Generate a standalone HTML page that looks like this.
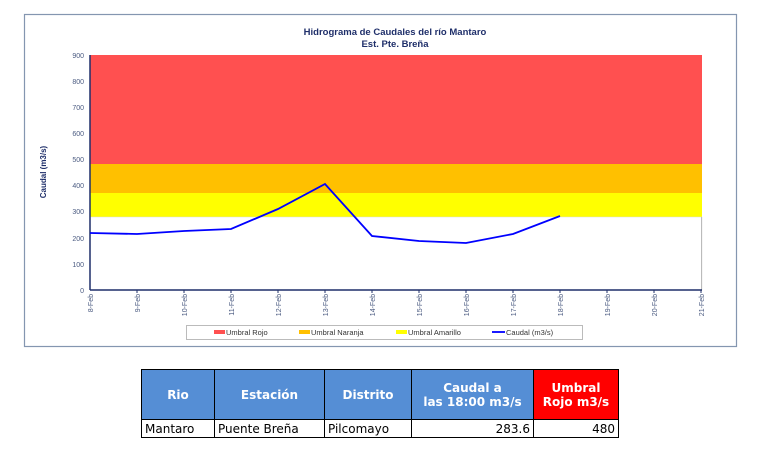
<!DOCTYPE html>
<html><head><meta charset="utf-8"><style>
body{margin:0;background:#fff;width:774px;height:465px;overflow:hidden;font-family:"Liberation Sans",sans-serif}
table{position:absolute;left:141px;top:369px;border-collapse:collapse;table-layout:fixed;width:477px;font-family:"DejaVu Sans","Liberation Sans",sans-serif;font-size:12px}
td,th{border:1.5px solid #000;padding:0 3px;white-space:nowrap;overflow:hidden}
th{background:#558ed5;color:#fff;height:49px;font-weight:bold;text-align:center;padding:0}
td{height:17px}
</style></head><body>
<svg width="774" height="465" style="position:absolute;left:0;top:0" font-family="Liberation Sans, sans-serif">
<rect x="24.5" y="14.5" width="712" height="332" fill="#fff" stroke="#8496b0" stroke-width="1.2"/>
<text x="395" y="35" text-anchor="middle" font-size="9.5" font-weight="bold" fill="#1f2f6a">Hidrograma de Caudales del río Mantaro</text>
<text x="395" y="47" text-anchor="middle" font-size="9.5" font-weight="bold" fill="#1f2f6a">Est. Pte. Breña</text>
<rect x="90" y="55" width="612" height="109" fill="#ff5050"/>
<rect x="90" y="164" width="612" height="29" fill="#ffc000"/>
<rect x="90" y="193" width="612" height="24" fill="#ffff00"/>
<rect x="90" y="217" width="612" height="73" fill="#fff" stroke="#ddd" stroke-width="0.5"/>
<line x1="701.5" y1="217" x2="701.5" y2="290" stroke="#bbb"/>
<g stroke="#1f2f6a" stroke-width="1.5"><line x1="90" y1="55" x2="90" y2="290"/><line x1="90" y1="290" x2="702" y2="290"/></g>
<g font-size="7" fill="#4a5a80" text-anchor="end">
<text x="84" y="58">900</text><text x="84" y="84">800</text><text x="84" y="110">700</text><text x="84" y="136">600</text><text x="84" y="162">500</text><text x="84" y="188">400</text><text x="84" y="214">300</text><text x="84" y="241">200</text><text x="84" y="267">100</text><text x="84" y="293">0</text>
</g>
<text transform="translate(46,172) rotate(-90)" text-anchor="middle" font-size="8" font-weight="bold" fill="#1f2f6a">Caudal (m3/s)</text>
<g font-size="7" fill="#4a5a80" text-anchor="end">
<text transform="translate(93,294) rotate(-90)">8-Feb</text>
<text transform="translate(140,294) rotate(-90)">9-Feb</text>
<text transform="translate(187,294) rotate(-90)">10-Feb</text>
<text transform="translate(234,294) rotate(-90)">11-Feb</text>
<text transform="translate(281,294) rotate(-90)">12-Feb</text>
<text transform="translate(328,294) rotate(-90)">13-Feb</text>
<text transform="translate(375,294) rotate(-90)">14-Feb</text>
<text transform="translate(422,294) rotate(-90)">15-Feb</text>
<text transform="translate(469,294) rotate(-90)">16-Feb</text>
<text transform="translate(516,294) rotate(-90)">17-Feb</text>
<text transform="translate(563,294) rotate(-90)">18-Feb</text>
<text transform="translate(610,294) rotate(-90)">19-Feb</text>
<text transform="translate(657,294) rotate(-90)">20-Feb</text>
<text transform="translate(704,294) rotate(-90)">21-Feb</text>
</g>
<g stroke="#1f2f6a" stroke-width="1"><line x1="137" y1="290" x2="137" y2="293"/><line x1="184" y1="290" x2="184" y2="293"/><line x1="231" y1="290" x2="231" y2="293"/><line x1="278" y1="290" x2="278" y2="293"/><line x1="325" y1="290" x2="325" y2="293"/><line x1="372" y1="290" x2="372" y2="293"/><line x1="419" y1="290" x2="419" y2="293"/><line x1="466" y1="290" x2="466" y2="293"/><line x1="513" y1="290" x2="513" y2="293"/><line x1="560" y1="290" x2="560" y2="293"/><line x1="607" y1="290" x2="607" y2="293"/><line x1="654" y1="290" x2="654" y2="293"/><line x1="701" y1="290" x2="701" y2="293"/></g>
<polyline fill="none" stroke="#0000ff" stroke-width="1.8" points="90,233 137,234 184,231 231,229 278,209 325,184 372,236 419,241 466,243 513,234 560,216"/>
<rect x="186.5" y="325.5" width="396" height="14" fill="#fff" stroke="#bbb"/>
<rect x="214" y="330" width="11" height="4" fill="#ff5050"/><text x="226" y="335" font-size="7.5" fill="#333">Umbral Rojo</text>
<rect x="299" y="330" width="11" height="4" fill="#ffc000"/><text x="311" y="335" font-size="7.5" fill="#333">Umbral Naranja</text>
<rect x="396" y="330" width="11" height="4" fill="#ffff00"/><text x="408" y="335" font-size="7.5" fill="#333">Umbral Amarillo</text>
<line x1="492" y1="332" x2="505" y2="332" stroke="#0000ff" stroke-width="1.8"/><text x="506" y="335" font-size="7.5" fill="#333">Caudal (m3/s)</text>
</svg>
<table>
<colgroup><col style="width:73px"><col style="width:110px"><col style="width:87px"><col style="width:122px"><col style="width:85px"></colgroup>
<tr><th>Rio</th><th>Estación</th><th>Distrito</th><th>Caudal a<br>las 18:00 m3/s</th><th style="background:#ff0000">Umbral<br>Rojo m3/s</th></tr>
<tr><td>Mantaro</td><td>Puente Breña</td><td>Pilcomayo</td><td style="text-align:right">283.6</td><td style="text-align:right">480</td></tr>
</table>
</body></html>
